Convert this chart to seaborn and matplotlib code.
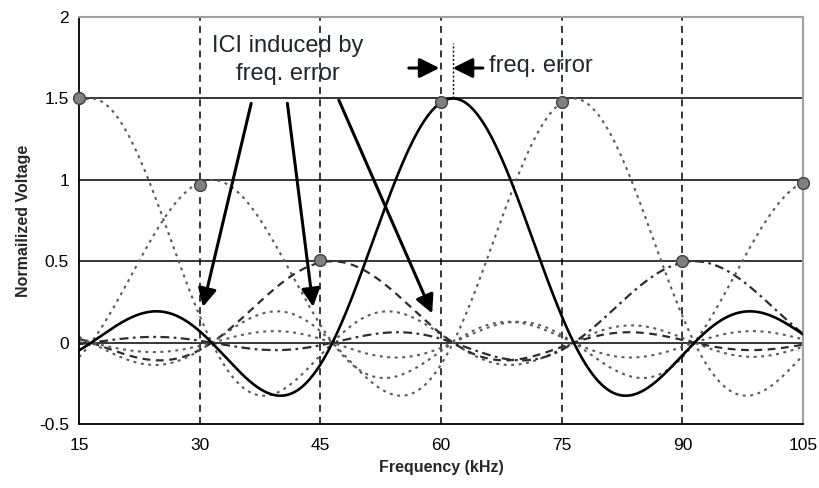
import numpy as np
import pandas as pd
import seaborn as sns
import matplotlib.pyplot as plt

# subcarriers (kHz) and their peak amplitudes
subcarrier_khz = [15, 30, 45, 60, 75, 90, 105]
amplitudes = [1.5, 1.0, 0.5, 1.5, 1.5, 0.5, 1.0]
spacing_khz = 15.0
freq_error_khz = 1.5
# sampled values seen at the nominal subcarrier frequencies
marker_values = [1.5, 0.97, 0.51, 1.48, 1.48, 0.5, 0.98]

x_ticks = [15, 30, 45, 60, 75, 90, 105]
y_ticks = [-0.5, 0, 0.5, 1, 1.5, 2]
y_ticklabels = ['-0.5', '0', '0.5', '1', '1.5', '2']

sns.set_style('white')
plt.rcParams['font.family'] = ['Liberation Sans', 'DejaVu Sans']

fig = plt.figure(figsize=(8.19, 4.88), dpi=100)
ax = fig.add_axes([0.0965, 0.131, 0.884, 0.834])

freq = np.linspace(15, 105, 901)
dotted = (0, (1.4, 2.2))
styles = [dotted, dotted, (0, (3.5, 2.5)), '-', dotted, (0, (4, 2, 1.2, 2)), dotted]
colors = ['#5a5a5a', '#5a5a5a', '#2e2e2e', 'black', '#5a5a5a', '#2e2e2e', '#5a5a5a']
widths = [1.5, 1.5, 1.6, 1.9, 1.5, 1.6, 1.5]

for fc, amp, ls, col, lw in zip(subcarrier_khz, amplitudes, styles, colors, widths):
    df = pd.DataFrame({'f': freq,
                       'v': amp * np.sinc((freq - fc - freq_error_khz) / spacing_khz)})
    sns.lineplot(data=df, x='f', y='v', ax=ax, color=col, lw=lw, linestyle=ls,
                 estimator=None, zorder=3 if ls == '-' else 2)

# reference lines
for yv in [0, 0.5, 1, 1.5]:
    ax.axhline(yv, color='black', lw=1.1, zorder=1)
for xv in [30, 45, 60, 75, 90]:
    ax.axvline(xv, color='black', lw=1.1, linestyle=(0, (4.5, 3.5)), zorder=1)

pts = pd.DataFrame({'f': subcarrier_khz, 'v': marker_values})
sns.scatterplot(data=pts, x='f', y='v', ax=ax, s=72, color='#808080',
                edgecolor='#404040', linewidth=1.0, zorder=5, clip_on=False)

# annotations
txt_col = '#22242e'
ax.text(40.9, 1.785, 'ICI induced by', ha='center', va='baseline', fontsize=17, color=txt_col)
ax.text(40.9, 1.613, 'freq. error', ha='center', va='baseline', fontsize=17, color=txt_col)
ax.text(66.0, 1.66, 'freq. error', ha='left', va='baseline', fontsize=17, color=txt_col)

big = dict(arrowstyle='-|>,head_length=0.55,head_width=0.28', color='black', lw=2.2,
           mutation_scale=20, shrinkA=0, shrinkB=0)
for (x0, y0), (x1, y1) in [((36.4, 1.47), (30.4, 0.22)),
                           ((40.9, 1.47), (44.1, 0.22)),
                           ((47.3, 1.49), (58.9, 0.18))]:
    ax.annotate('', xy=(x1, y1), xytext=(x0, y0), arrowprops=big, zorder=6)

small = dict(arrowstyle='-|>,head_length=0.6,head_width=0.3', color='black', lw=2.2,
             mutation_scale=20, shrinkA=0, shrinkB=0)
ax.annotate('', xy=(59.8, 1.687), xytext=(56.0, 1.687), arrowprops=small)
ax.annotate('', xy=(61.45, 1.687), xytext=(65.2, 1.687), arrowprops=small)
ax.plot([61.5, 61.5], [1.5, 1.84], color='black', lw=1.0, linestyle=(0, (1.5, 1.5)))

ax.set_xlim(15, 105)
ax.set_ylim(-0.5, 2)
ax.set_xticks(x_ticks)
ax.set_yticks(y_ticks)
ax.set_yticklabels(y_ticklabels)
ax.tick_params(axis='both', labelsize=12.5, colors='black', direction='out', width=1.2)
ax.tick_params(axis='x', length=4, pad=6)
ax.tick_params(axis='y', length=4.3, pad=3)
ax.set_xlabel('Frequency (kHz)', fontsize=11.5, fontweight='bold', labelpad=5)
ax.set_ylabel('Normailized Voltage', fontsize=11.5, fontweight='bold', labelpad=6)

for side in ['left', 'bottom']:
    ax.spines[side].set_color('black')
    ax.spines[side].set_linewidth(1.3)
for side in ['top', 'right']:
    ax.spines[side].set_color('#a0a0a0')
    ax.spines[side].set_linewidth(1.5)

fig.savefig('out.png', dpi=100)
